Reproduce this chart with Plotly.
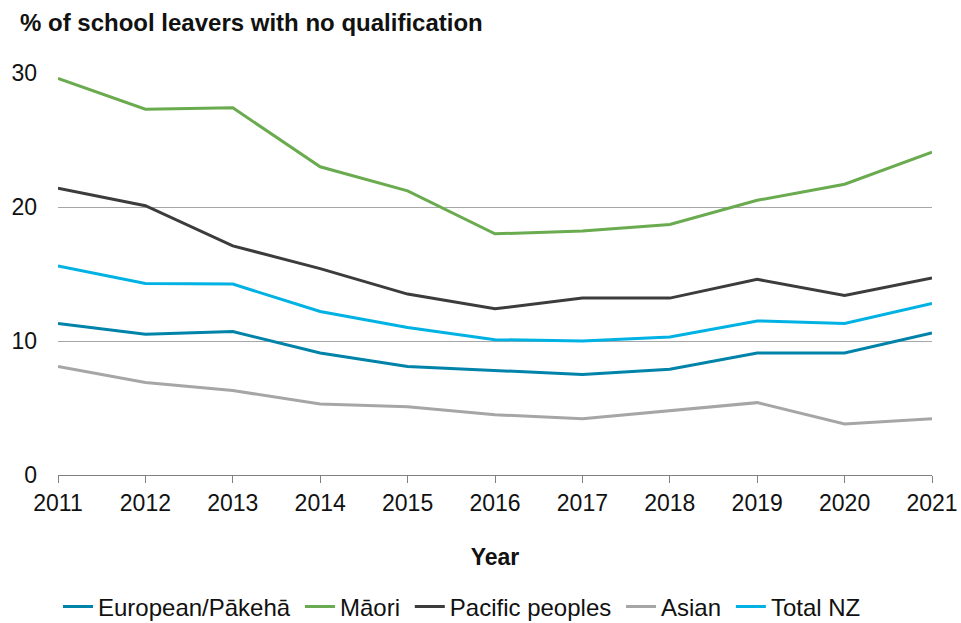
import plotly.graph_objects as go

years = [2011, 2012, 2013, 2014, 2015, 2016, 2017, 2018, 2019, 2020, 2021]
european = [11.3, 10.5, 10.7, 9.1, 8.1, 7.8, 7.5, 7.9, 9.1, 9.1, 10.6]
maori = [29.6, 27.3, 27.4, 23.0, 21.2, 18.0, 18.2, 18.7, 20.5, 21.7, 24.1]
pacific = [21.4, 20.1, 17.1, 15.4, 13.5, 12.4, 13.2, 13.2, 14.6, 13.4, 14.7]
asian = [8.1, 6.9, 6.3, 5.3, 5.1, 4.5, 4.2, 4.8, 5.4, 3.8, 4.2]
total_nz = [15.6, 14.3, 14.25, 12.2, 11.0, 10.1, 10.0, 10.3, 11.5, 11.3, 12.8]

series = [
    ("European/Pākehā", european, "#0083A9"),
    ("Māori", maori, "#6AAB4F"),
    ("Pacific peoples", pacific, "#3C3C3C"),
    ("Asian", asian, "#A6A6A6"),
    ("Total NZ", total_nz, "#00B2E3"),
]

font = "Liberation Sans, Arial, sans-serif"
fs = 23
pad = "\u2009"  # a little extra room between legend entries

fig = go.Figure()
for i, (name, vals, color) in enumerate(series):
    label = name + (pad if i < len(series) - 1 else "")
    fig.add_trace(go.Scatter(
        x=years, y=vals, name=label, mode="lines",
        line=dict(color=color, width=3),
    ))

fig.update_layout(
    width=961, height=623,
    margin=dict(l=58, r=29, t=73, b=148),
    paper_bgcolor="white", plot_bgcolor="white",
    font=dict(family=font, size=fs, color="#111111"),
    title=dict(
        text="<b>% of school leavers with no qualification</b>",
        x=20 / 961, xanchor="left", xref="container",
        y=1 - 23 / 623, yanchor="middle", yref="container",
        font=dict(family=font, size=24, color="#111111"),
    ),
    showlegend=True,
    legend=dict(
        orientation="h", x=58 / 961, xanchor="left", xref="container",
        y=1 - 607 / 623, yanchor="middle", yref="container",
        font=dict(family=font, size=24, color="#111111"),
        itemwidth=30, tracegroupgap=0,
    ),
    xaxis=dict(
        range=[2011, 2021], tickvals=years, ticktext=[str(y) for y in years],
        showgrid=False, showline=True, linecolor="#808080", linewidth=1,
        ticks="outside", ticklen=7, tickcolor="#808080",
        tickfont=dict(family=font, size=fs, color="#111111"),
        title=dict(text="<b>Year</b>", font=dict(family=font, size=fs, color="#111111"), standoff=34),
        zeroline=False, fixedrange=True, automargin=False,
    ),
    yaxis=dict(
        range=[0, 30], tickvals=[0, 10, 20, 30],
        showgrid=True, gridcolor="#A6A6A6", gridwidth=1,
        showline=False, zeroline=False, ticks="",
        tickfont=dict(family=font, size=fs, color="#111111"),
        ticklabelstandoff=20,
        fixedrange=True, automargin=False,
    ),
)

fig.write_html("out.html")
